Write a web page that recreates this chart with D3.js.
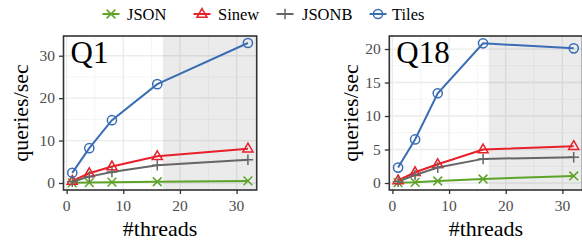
<!DOCTYPE html>
<html>
<head>
<meta charset="utf-8">
<script src="https://cdn.jsdelivr.net/npm/d3@7"></script>
<style>
  html, body { margin: 0; padding: 0; background: #fff; }
  svg { display: block; }
</style>
</head>
<body>
<svg id="chart" width="582" height="246"></svg>
<script>
// ---- data ----
const threads = [1, 4, 8, 16, 32];
const seriesNames = ["JSON", "Sinew", "JSONB", "Tiles"];
const seriesColors = ["#5da327", "#e8202a", "#666666", "#3a6db3"];
const q1Json  = [0.05, 0.1, 0.2, 0.3, 0.5];
const q1Sinew = [0.5, 2.3, 3.9, 6.3, 8.1];
const q1Jsonb = [0.3, 1.5, 2.6, 4.2, 5.5];
const q1Tiles = [2.4, 8.2, 14.8, 23.3, 33.0];
const q18Json  = [0.05, 0.1, 0.3, 0.6, 1.05];
const q18Sinew = [0.4, 1.6, 2.8, 5.0, 5.5];
const q18Jsonb = [0.2, 1.2, 2.3, 3.6, 3.85];
const q18Tiles = [2.3, 6.5, 13.4, 20.85, 20.1];
const xTicks = [0, 10, 20, 30];
const q1YTicks = [0, 10, 20, 30];
const q18YTicks = [0, 5, 10, 15, 20];
const shadeFrom = 17;
const panelTitles = ["Q1", "Q18"];

const FONT = '"Liberation Serif", "Times New Roman", serif';
const BASE = 31; // render every text at one base size, scaled to the wanted size
const svg = d3.select("#chart");
const markerShapes = ["cross", "triangle", "plus", "circle"];

function label(g, px, py, str, size, opts = {}) {
  const k = size / BASE;
  const rot = opts.rotate ? ` rotate(${opts.rotate})` : "";
  return g.append("text")
    .attr("transform", `translate(${px},${py})${rot} scale(${k})`)
    .attr("x", 0).attr("y", 0)
    .attr("font-size", BASE)
    .style("font-family", FONT)
    .attr("text-anchor", opts.anchor || "start")
    .attr("fill", opts.fill || "#000")
    .text(str);
}

function drawMarker(g, shape, cx, cy, color) {
  const s = 4.6;
  if (shape === "circle") {
    g.append("circle").attr("cx", cx).attr("cy", cy).attr("r", s)
      .attr("fill", "none").attr("stroke", color).attr("stroke-width", 1.5);
  } else if (shape === "triangle") {
    const h = s * 1.9, w = s * 1.1;
    g.append("path")
      .attr("d", `M${cx},${cy - h * 0.62}L${cx + w},${cy + h * 0.38}L${cx - w},${cy + h * 0.38}Z`)
      .attr("fill", "none").attr("stroke", color).attr("stroke-width", 1.5);
  } else if (shape === "plus") {
    g.append("path")
      .attr("d", `M${cx - s * 1.15},${cy}H${cx + s * 1.15}M${cx},${cy - s * 1.15}V${cy + s * 1.15}`)
      .attr("stroke", color).attr("stroke-width", 1.5);
  } else {
    const d = s * 0.95;
    g.append("path")
      .attr("d", `M${cx - d},${cy - d}L${cx + d},${cy + d}M${cx - d},${cy + d}L${cx + d},${cy - d}`)
      .attr("stroke", color).attr("stroke-width", 1.5);
  }
}

function panel(opts) {
  const { left, right, top, bottom, yMax, yTicks, yMinor, series, title, yTitleX } = opts;
  const x = d3.scaleLinear().domain([1 - 31 * 0.05, 32 + 31 * 0.05]).range([left, right]);
  const y = d3.scaleLinear().domain([0 - yMax * 0.05, yMax * 1.05]).range([bottom, top]);
  const clipId = "clip" + title;
  svg.append("clipPath").attr("id", clipId).append("rect")
    .attr("x", left).attr("y", top).attr("width", right - left).attr("height", bottom - top);
  const g = svg.append("g");
  const inner = g.append("g").attr("clip-path", `url(#${clipId})`);
  inner.append("rect").attr("x", left).attr("y", top).attr("width", right - left)
    .attr("height", bottom - top).attr("fill", "#fff");
  const xMinor = [5, 15, 25];
  xMinor.forEach(v => inner.append("line").attr("x1", x(v)).attr("x2", x(v)).attr("y1", top).attr("y2", bottom)
    .attr("stroke", "#f2f2f2").attr("stroke-width", 0.8));
  yMinor.forEach(v => inner.append("line").attr("y1", y(v)).attr("y2", y(v)).attr("x1", left).attr("x2", right)
    .attr("stroke", "#f2f2f2").attr("stroke-width", 0.8));
  xTicks.forEach(v => inner.append("line").attr("x1", x(v)).attr("x2", x(v)).attr("y1", top).attr("y2", bottom)
    .attr("stroke", "#ebebeb").attr("stroke-width", 1.3));
  yTicks.forEach(v => inner.append("line").attr("y1", y(v)).attr("y2", y(v)).attr("x1", left).attr("x2", right)
    .attr("stroke", "#ebebeb").attr("stroke-width", 1.3));
  inner.append("rect").attr("x", x(shadeFrom)).attr("y", top).attr("width", right - x(shadeFrom))
    .attr("height", bottom - top).attr("fill", "#000").attr("fill-opacity", 0.08);
  const line = d3.line().x((d, i) => x(threads[i])).y(d => y(d));
  series.forEach((vals, si) => {
    inner.append("path").datum(vals).attr("d", line).attr("fill", "none")
      .attr("stroke", seriesColors[si]).attr("stroke-width", 2);
  });
  series.forEach((vals, si) => {
    vals.forEach((v, i) => drawMarker(inner, markerShapes[si], x(threads[i]), y(v), seriesColors[si]));
  });
  label(inner, left + 7, top + 26.5, title, 31);
  g.append("rect").attr("x", left).attr("y", top).attr("width", right - left).attr("height", bottom - top)
    .attr("fill", "none").attr("stroke", "#333").attr("stroke-width", 1.6);
  // axes: tick marks from d3 axes, labels placed through the same scales
  const xa = g.append("g").attr("transform", `translate(0,${bottom})`)
    .call(d3.axisBottom(x).tickValues(xTicks).tickSize(4).tickFormat(""));
  const ya = g.append("g").attr("transform", `translate(${left},0)`)
    .call(d3.axisLeft(y).tickValues(yTicks).tickSize(4.5).tickFormat(""));
  [xa, ya].forEach(a => {
    a.select(".domain").remove();
    a.selectAll(".tick text").remove();
    a.selectAll(".tick line").attr("stroke", "#333").attr("stroke-width", 1.3);
  });
  xTicks.forEach(v => label(g, x(v), 211, d3.format("d")(v), 15.5, { anchor: "middle", fill: "#4d4d4d" }));
  yTicks.forEach(v => label(g, left - 8.5, y(v) + 5, d3.format("d")(v), 15.5, { anchor: "end", fill: "#4d4d4d" }));
  label(g, (left + right) / 2, 236, "#threads", 22, { anchor: "middle" });
  label(g, yTitleX + 6.5, (top + bottom) / 2, "queries/sec", 22, { anchor: "middle", rotate: -90 });
}

panel({ left: 63.5, right: 256.7, top: 36, bottom: 190, yMax: 33.0, yTicks: q1YTicks, yMinor: [5, 15, 25],
  series: [q1Json, q1Sinew, q1Jsonb, q1Tiles], title: panelTitles[0], yTitleX: 21 });
panel({ left: 389.3, right: 582.5, top: 36, bottom: 190, yMax: 20.9, yTicks: q18YTicks, yMinor: [2.5, 7.5, 12.5, 17.5],
  series: [q18Json, q18Sinew, q18Jsonb, q18Tiles], title: panelTitles[1], yTitleX: 351 });

const legendX = [111, 202, 285, 378];
const legendTextX = [127, 218, 302, 392];
const lg = svg.append("g");
seriesNames.forEach((name, i) => {
  lg.append("line").attr("x1", legendX[i] - 8.5).attr("x2", legendX[i] + 8.5).attr("y1", 14).attr("y2", 14)
    .attr("stroke", seriesColors[i]).attr("stroke-width", 2);
  drawMarker(lg, markerShapes[i], legendX[i], 14, seriesColors[i]);
  label(lg, legendTextX[i], 19.5, name, 16.5);
});
</script>
</body>
</html>
